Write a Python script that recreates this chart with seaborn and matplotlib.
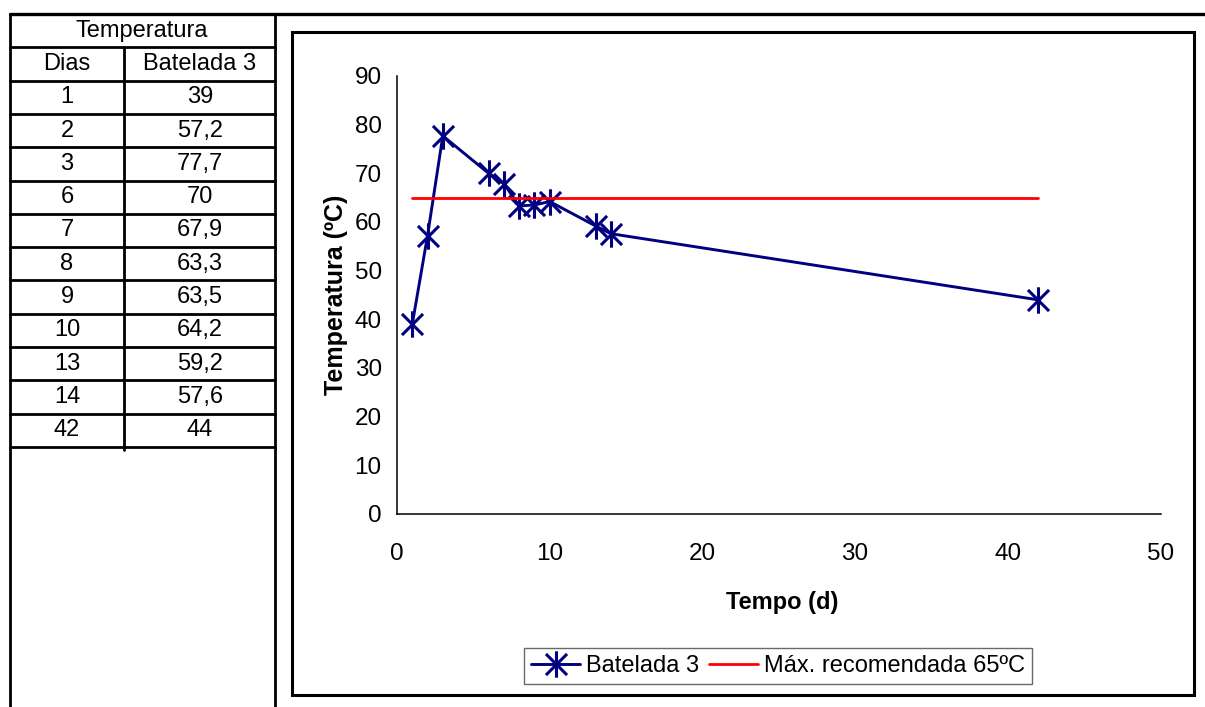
import matplotlib.pyplot as plt
import seaborn as sns
from matplotlib.lines import Line2D
from matplotlib.patches import Rectangle
from matplotlib.path import Path

dias = [1, 2, 3, 6, 7, 8, 9, 10, 13, 14, 42]
batelada_3 = [39, 57.2, 77.7, 70, 67.9, 63.3, 63.5, 64.2, 59.2, 57.6, 44]
max_recomendada = [65, 65, 65, 65, 65, 65, 65, 65, 65, 65, 65]
x_ticks = [0, 10, 20, 30, 40, 50]
y_ticks = [0, 10, 20, 30, 40, 50, 60, 70, 80, 90]

W, H = 1205, 707

sns.set_style("white")
plt.rcParams['font.family'] = ['Liberation Sans', 'DejaVu Sans']
plt.rcParams['text.color'] = 'black'
plt.rcParams['axes.labelcolor'] = 'black'
plt.rcParams['xtick.color'] = 'black'
plt.rcParams['ytick.color'] = 'black'


def fx(x):
    return x / W


def fy(y):
    return 1 - y / H


def hline(fig, x0, x1, y, lw=2.0):
    fig.add_artist(Line2D([fx(x0), fx(x1)], [fy(y), fy(y)], color='black',
                          linewidth=lw, transform=fig.transFigure))


def vline(fig, x, y0, y1, lw=2.0):
    fig.add_artist(Line2D([fx(x), fx(x)], [fy(y0), fy(y1)], color='black',
                          linewidth=lw, transform=fig.transFigure))


fig = plt.figure(figsize=(W / 100, H / 100), dpi=100)
fig.patch.set_facecolor('white')

# ---- spreadsheet table on the left ----
row_h = 33.3
top = 14
hline(fig, 10, W, top, lw=2.4)
for i in range(1, 14):
    hline(fig, 10, 275, top + i * row_h)
vline(fig, 10, top, H)
vline(fig, 275, top, H)
vline(fig, 124, top + row_h, top + 13 * row_h + 3)

tkw = dict(ha='center', va='center', fontsize=17, transform=fig.transFigure)
fig.text(fx(142), fy(top + 0.5 * row_h), "Temperatura", **tkw)
fig.text(fx(67), fy(top + 1.5 * row_h), "Dias", **tkw)
fig.text(fx(200), fy(top + 1.5 * row_h), "Batelada 3", **tkw)
for i, (d, v) in enumerate(zip(dias, batelada_3)):
    yc = fy(top + (i + 2.5) * row_h)
    fig.text(fx(67), yc, str(d), **tkw)
    fig.text(fx(200), yc, f"{v:g}".replace(".", ","), **tkw)

# ---- chart frame ----
fig.add_artist(Rectangle((fx(292), fy(695)), fx(1194) - fx(292), fy(32) - fy(695),
                         fill=False, edgecolor='black', linewidth=2.2,
                         transform=fig.transFigure))

ax_l, ax_r, ax_t, ax_b = 397, 1160.5, 76, 514
ax = fig.add_axes([fx(ax_l), fy(ax_b), fx(ax_r) - fx(ax_l), fy(ax_t) - fy(ax_b)])
ax.set_facecolor('none')

# excel-style star marker: vertical bar plus an X
star = Path([(0, -1), (0, 1), (-0.8, -0.8), (0.8, 0.8), (-0.8, 0.8), (0.8, -0.8)],
            [Path.MOVETO, Path.LINETO, Path.MOVETO, Path.LINETO, Path.MOVETO, Path.LINETO])

sns.lineplot(x=dias, y=batelada_3, ax=ax, color='#000080', linewidth=2.1,
             marker=star, markerfacecolor='none', markeredgecolor='#000080',
             label='Batelada 3')
sns.lineplot(x=dias, y=max_recomendada, ax=ax, color='#FF0000', linewidth=2.0,
             label='Máx. recomendada 65ºC')
serie = ax.lines[0]
serie.set_markersize(19)
serie.set_markeredgewidth(2.2)

ax.set_xlim(0, 50)
ax.set_ylim(0, 90)
ax.set_xticks(x_ticks)
ax.set_yticks(y_ticks)
for s in ['top', 'right']:
    ax.spines[s].set_visible(False)
for s in ['left', 'bottom']:
    ax.spines[s].set_color('black')
    ax.spines[s].set_linewidth(1.1)
ax.tick_params(axis='both', direction='out', length=5, width=1.1, color='#222222',
               labelsize=17.5)
ax.tick_params(axis='x', pad=16)
ax.tick_params(axis='y', pad=6)

ax.set_xlabel("Tempo (d)", fontsize=17, fontweight='bold')
ax.set_ylabel("Temperatura (ºC)", fontsize=18, fontweight='bold')
ax.xaxis.set_label_coords(0.504, -0.176)
ax.yaxis.set_label_coords(-0.064, 0.5)

handles, labels = ax.get_legend_handles_labels()
leg = ax.legend(handles, labels, ncol=2, loc='center',
                bbox_to_anchor=(fx(778), fy(666)), bbox_transform=fig.transFigure,
                fontsize=17, frameon=True, fancybox=False, handlelength=2.1,
                handletextpad=0.25, columnspacing=0.4, borderpad=0.3,
                borderaxespad=0)
leg.get_frame().set_edgecolor('#444444')
leg.get_frame().set_linewidth(1.0)
for h in leg.legend_handles:
    if h.get_marker() not in (None, 'None', ''):
        h.set_markersize(19)
        h.set_markeredgewidth(2.2)

plt.savefig("out.png", dpi=100)
plt.close()
